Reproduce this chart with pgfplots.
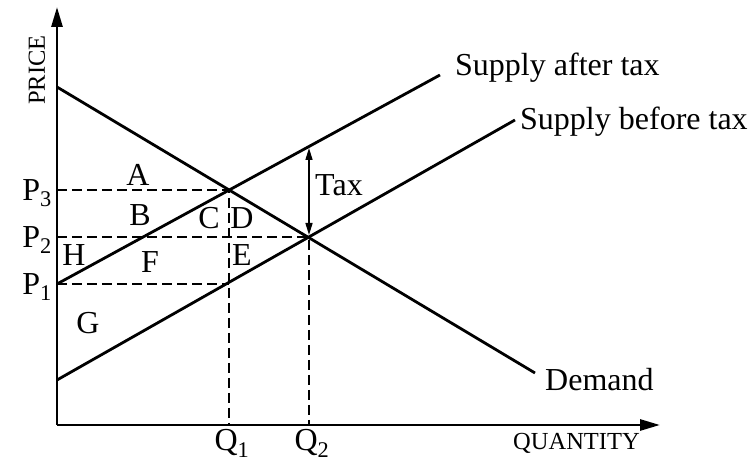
\documentclass[border=0pt]{standalone}
\usepackage{fontspec}
\setmainfont{Liberation Serif}
\usepackage{pgfplots}
\pgfplotsset{compat=1.18}
\usetikzlibrary{arrows.meta}
\tikzset{
  lbl/.style={font=\fontsize{32}{35}\selectfont},
  small lbl/.style={font=\fontsize{24.5}{27}\selectfont},
}
\begin{document}
\begin{tikzpicture}
  \useasboundingbox (-57pt,-37pt) rectangle (692pt,425pt);
  \begin{axis}[
    x=1pt, y=1pt,
    xmin=0, xmax=603, ymin=0, ymax=418,
    axis lines=left,
    axis line style={line width=2.8pt, -{Triangle[length=20pt,width=11pt]}},
    xtick=\empty, ytick=\empty,
    clip=false,
  ]
    % demand and supply curves
    \addplot[black, line width=2.8pt] coordinates {(0,338) (478,52)};
    \addplot[black, line width=2.8pt] coordinates {(0,45) (458,305)};
    \addplot[black, line width=2.8pt] coordinates {(0,141) (383,350)};
    % dashed guides
    \addplot[black, line width=1.6pt, dash pattern=on 10pt off 5pt] coordinates {(0,235) (172,235) (172,0)};
    \addplot[black, line width=1.6pt, dash pattern=on 10pt off 5pt] coordinates {(0,188) (252,188) (252,0)};
    \addplot[black, line width=1.6pt, dash pattern=on 10pt off 5pt] coordinates {(0,141) (172,141)};
    % tax arrow
    \addplot[black, line width=1.5pt, {Triangle[length=12pt,width=7pt]}-{Triangle[length=12pt,width=7pt]}]
      coordinates {(252,277) (252,190)};

    \node[lbl] at (axis cs:81,250) {A};
    \node[lbl] at (axis cs:83,210) {B};
    \node[lbl] at (axis cs:152,207) {C};
    \node[lbl] at (axis cs:185,207) {D};
    \node[lbl] at (axis cs:17,170) {H};
    \node[lbl] at (axis cs:93,163) {F};
    \node[lbl] at (axis cs:185,170) {E};
    \node[lbl] at (axis cs:31,102) {G};

    \node[lbl, anchor=east, inner sep=0pt] at (axis cs:-5,232) {P\textsubscript{3}};
    \node[lbl, anchor=east, inner sep=0pt] at (axis cs:-5,185) {P\textsubscript{2}};
    \node[lbl, anchor=east, inner sep=0pt] at (axis cs:-5,138) {P\textsubscript{1}};
    \node[lbl, anchor=base, inner sep=0pt] at (axis cs:175,-26) {Q\textsubscript{1}};
    \node[lbl, anchor=base, inner sep=0pt] at (axis cs:255,-26) {Q\textsubscript{2}};

    \node[lbl, anchor=west, inner sep=0pt] at (axis cs:258,240) {Tax};
    \node[lbl, anchor=west, inner sep=0pt] at (axis cs:398,357) {Supply after tax};
    \node[lbl, anchor=west, inner sep=0pt] at (axis cs:463,303) {Supply before tax};
    \node[lbl, anchor=west, inner sep=0pt] at (axis cs:488,45) {Demand};

    \node[small lbl, anchor=west, inner sep=0pt] at (axis cs:456,-18) {QUANTITY};
    \node[small lbl, rotate=90, inner sep=0pt] at (axis cs:-20,355) {PRICE};
  \end{axis}
\end{tikzpicture}
\end{document}
